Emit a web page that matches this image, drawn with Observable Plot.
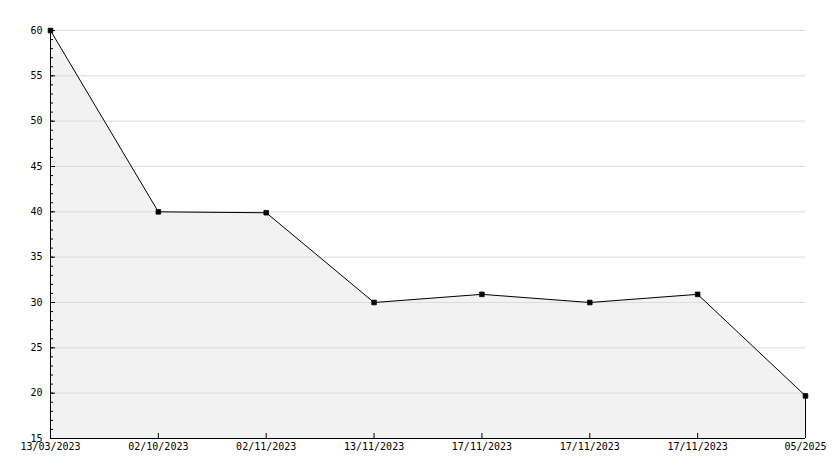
<!DOCTYPE html>
<html>
<head>
<meta charset="utf-8">
<script src="https://cdn.jsdelivr.net/npm/d3@7"></script>
<script src="https://cdn.jsdelivr.net/npm/@observablehq/plot@0.6"></script>
<style>
  html, body { margin: 0; padding: 0; background: #fff; }
  #chart svg { display: block; }
</style>
</head>
<body>
<div id="chart"></div>
<script>
const dateLabels = ["13/03/2023", "02/10/2023", "02/11/2023", "13/11/2023", "17/11/2023", "17/11/2023", "17/11/2023", "05/2025"];
const values = [60, 40, 39.9, 30, 30.9, 30, 30.9, 19.7];
const yMajorTicks = [15, 20, 25, 30, 35, 40, 45, 50, 55, 60];
const yMinorTicks = d3.range(15, 61, 1);
const yGridTicks = [20, 25, 30, 35, 40, 45, 50, 55, 60];

const data = values.map((v, i) => ({i, v}));
const idx = dateLabels.map((_, i) => i);

const chart = Plot.plot({
  width: 834,
  height: 468,
  marginLeft: 50,
  marginRight: 29,
  marginTop: 30,
  marginBottom: 30,
  style: {fontFamily: "'DejaVu Sans Mono', monospace", fontSize: "10px", color: "#000", background: "#fff"},
  x: {domain: [0, dateLabels.length - 1], label: null},
  y: {domain: [15, 60], label: null},
  marks: [
    Plot.areaY(data, {x: "i", y1: 15, y2: "v", fill: "#f2f2f2"}),
    Plot.gridY(yGridTicks, {stroke: "#dcdcdc", strokeOpacity: 1}),
    Plot.ruleX(data.slice(-1), {x: "i", y1: 15, y2: "v", stroke: "#000"}),
    Plot.lineY(data, {x: "i", y: "v", stroke: "#000", strokeWidth: 1}),
    Plot.dot(data, {x: "i", y: "v", symbol: "square", r: 2.6, fill: "#000", stroke: "#000", strokeWidth: 0.8}),
    Plot.axisY(yMinorTicks, {tickSize: -3, text: null, stroke: "#000", label: null}),
    Plot.axisY(yMajorTicks, {tickSize: -5, text: null, stroke: "#000", label: null}),
    Plot.axisY(yMajorTicks, {tickSize: 0, tickPadding: 8, fill: "#000", label: null}),
    Plot.axisX(idx, {tickSize: -5, text: null, stroke: "#000", label: null}),
    Plot.axisX(idx, {tickSize: 0, tickPadding: 4, tickFormat: (d) => dateLabels[d], fill: "#000", label: null}),
    Plot.ruleX([0], {stroke: "#000"}),
    Plot.ruleY([15], {stroke: "#000"})
  ]
});
document.getElementById("chart").appendChild(chart);
</script>
</body>
</html>
